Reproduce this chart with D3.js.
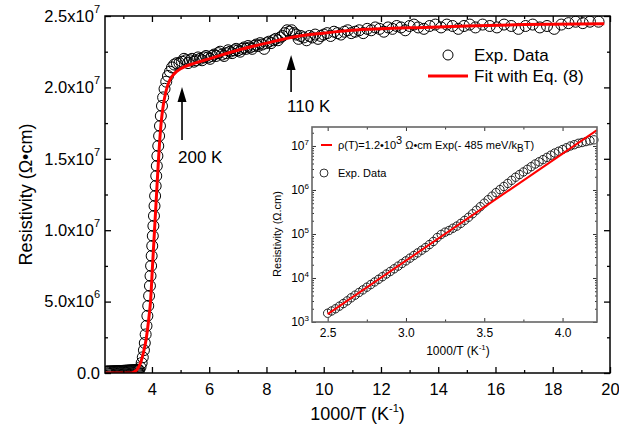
<!DOCTYPE html>
<html>
<head>
<meta charset="utf-8">
<script src="https://cdn.jsdelivr.net/npm/d3@7"></script>
<style>
body { margin: 0; background: #fff; }
svg text { font-family: "Liberation Sans", Arial, sans-serif; fill: #000; }
</style>
</head>
<body>
<div id="chart"></div>
<script>
// main panel: experimental data, 1000/T (K^-1) and resistivity in units of 1e7 Ohm.cm
const expX = [2.40, 2.44, 2.48, 2.52, 2.56, 2.60, 2.64, 2.68, 2.72, 2.76, 2.80, 2.84, 2.88, 2.92, 2.96, 3.00, 3.04, 3.08, 3.12, 3.16, 3.20, 3.24, 3.28, 3.32, 3.36, 3.40, 3.44, 3.48, 3.52,
	3.55, 3.60, 3.64, 3.68, 3.72, 3.75, 3.78, 3.81, 3.84, 3.87, 3.90, 3.93, 3.95, 3.97, 3.99, 4.01, 4.03, 4.05, 4.07, 4.09, 4.11, 4.13, 4.15, 4.17, 4.19, 4.22, 4.25, 4.28, 4.31, 4.35, 4.39, 4.44, 4.50, 4.56, 4.63, 4.70, 4.78, 4.87, 4.96,
	5.05, 5.12, 5.19, 5.26, 5.33, 5.40, 5.47, 5.54, 5.61, 5.68, 5.75, 5.82, 5.89, 5.96, 6.03, 6.10, 6.17, 6.24, 6.31, 6.38, 6.45, 6.52, 6.59, 6.66, 6.73, 6.80, 6.87, 6.94, 7.01, 7.08, 7.15, 7.22, 7.29, 7.36, 7.43, 7.50, 7.57, 7.64, 7.71, 7.78, 7.85, 7.92,
	8.00, 8.08, 8.16, 8.24, 8.32, 8.40, 8.48, 8.56, 8.64, 8.72, 8.80, 8.88, 8.96, 9.04, 9.12, 9.20, 9.30, 9.40, 9.50, 9.60, 9.70, 9.80, 9.90,
	10.00, 10.12, 10.24, 10.36, 10.48, 10.60, 10.72, 10.84, 10.96, 11.10, 11.24, 11.38, 11.52, 11.66, 11.80, 11.95, 12.10, 12.25, 12.40, 12.55, 12.70, 12.85, 13.00, 13.15, 13.30, 13.50, 13.70, 13.90,
	14.10, 14.30, 14.50, 14.70, 14.90, 15.10, 15.30, 15.55, 15.80, 16.05, 16.30, 16.55, 16.80, 17.05, 17.30, 17.55, 17.80, 18.05, 18.30, 18.55, 18.80, 19.05, 19.30, 19.60]
const expRho = [0.010, 0.010, 0.011, 0.011, 0.011, 0.012, 0.012, 0.012, 0.013, 0.013, 0.013, 0.014, 0.014, 0.014, 0.015, 0.015, 0.016, 0.016, 0.017, 0.017, 0.018, 0.018, 0.019, 0.019, 0.020, 0.020, 0.021, 0.021, 0.022,
	0.02, 0.04, 0.07, 0.11, 0.16, 0.21, 0.27, 0.33, 0.40, 0.47, 0.54, 0.61, 0.68, 0.75, 0.82, 0.89, 0.96, 1.03, 1.10, 1.17, 1.24, 1.31, 1.38, 1.45, 1.52, 1.59, 1.66, 1.73, 1.80, 1.87, 1.93, 1.99, 2.04, 2.08, 2.11, 2.14, 2.16, 2.17, 2.17,
	2.18, 2.20, 2.19, 2.17, 2.19, 2.20, 2.18, 2.19, 2.21, 2.20, 2.19, 2.21, 2.22, 2.21, 2.20, 2.22, 2.23, 2.22, 2.24, 2.25, 2.23, 2.22, 2.24, 2.26, 2.25, 2.24, 2.26, 2.27, 2.26, 2.25, 2.27, 2.28, 2.27, 2.29, 2.28, 2.27, 2.29, 2.30, 2.29, 2.31, 2.30, 2.27,
	2.31, 2.32, 2.31, 2.33, 2.34, 2.33, 2.35, 2.36, 2.38, 2.40, 2.39, 2.40, 2.38, 2.37, 2.34, 2.36, 2.35, 2.33, 2.36, 2.35, 2.37, 2.34, 2.36,
	2.37, 2.38, 2.36, 2.39, 2.38, 2.37, 2.39, 2.40, 2.38, 2.39, 2.40, 2.38, 2.41, 2.40, 2.42, 2.41, 2.39, 2.42, 2.41, 2.43, 2.42, 2.40, 2.43, 2.44, 2.42, 2.41, 2.43, 2.44,
	2.42, 2.44, 2.43, 2.41, 2.43, 2.44, 2.42, 2.44, 2.43, 2.42, 2.44, 2.43, 2.41, 2.43, 2.44, 2.42, 2.43, 2.41, 2.44, 2.45, 2.46, 2.45, 2.46, 2.46]

// main panel: fit with Eq. (8)
const fitX = [2.36, 3.30, 3.40, 3.50, 3.60, 3.70, 3.80, 3.90, 3.95, 4.02, 4.09, 4.16, 4.23, 4.32, 4.40, 4.50, 4.62, 4.80, 5.0, 5.5, 6.0, 7.0, 8.0, 9.0, 10.0, 11.0, 12.0, 13.5, 15.0, 17.0, 19.8]
const fitRho = [0.0, 0.0, 0.01, 0.03, 0.07, 0.14, 0.24, 0.40, 0.50, 0.75, 1.0, 1.25, 1.5, 1.75, 1.88, 1.98, 2.05, 2.10, 2.13, 2.17, 2.20, 2.26, 2.31, 2.355, 2.38, 2.40, 2.41, 2.42, 2.43, 2.44, 2.445]

const xTicks = [4, 6, 8, 10, 12, 14, 16, 18, 20]
const xMinorTicks = [3, 5, 7, 9, 11, 13, 15, 17, 19]
const yTicks = [0, 0.5, 1.0, 1.5, 2.0, 2.5]
const yTickMant = ["0.0", "5.0x10", "1.0x10", "1.5x10", "2.0x10", "2.5x10"]
const yTickExp = ["", "6", "7", "7", "7", "7"]
const yMinorTicks = [0.25, 0.75, 1.25, 1.75, 2.25]

const arrowNotes = [{ label: "200 K", x: 5.05 }, { label: "110 K", x: 8.86 }]

// inset: log plot
const insetX = [2.50, 2.525, 2.55, 2.575, 2.60, 2.625, 2.65, 2.675, 2.70, 2.725, 2.75, 2.775, 2.80, 2.825, 2.85, 2.875, 2.90, 2.925, 2.95, 2.975,
	3.00, 3.025, 3.05, 3.075, 3.10, 3.125, 3.15, 3.175, 3.20, 3.225, 3.25, 3.275, 3.30, 3.325, 3.35, 3.375, 3.40, 3.425, 3.45, 3.475,
	3.50, 3.525, 3.55, 3.575, 3.60, 3.625, 3.65, 3.675, 3.70, 3.725, 3.75, 3.775, 3.80, 3.825, 3.85, 3.875, 3.90, 3.925, 3.95, 3.975,
	4.00, 4.025, 4.05, 4.075, 4.10, 4.125, 4.15, 4.175, 4.20]
const insetRho = [1.58e3, 1.78e3, 2.0e3, 2.29e3, 2.63e3, 3.02e3, 3.55e3, 4.07e3, 4.68e3, 5.37e3, 6.17e3, 7.08e3, 8.13e3, 9.33e3, 1.07e4, 1.23e4, 1.41e4, 1.62e4, 1.86e4, 2.14e4,
	2.45e4, 2.82e4, 3.24e4, 3.72e4, 4.27e4, 4.90e4, 5.75e4, 6.76e4, 8.32e4, 9.77e4, 1.10e5, 1.20e5, 1.35e5, 1.51e5, 1.74e5, 2.04e5, 2.40e5, 2.88e5, 3.47e5, 4.17e5,
	5.01e5, 6.03e5, 7.24e5, 8.71e5, 1.02e6, 1.20e6, 1.41e6, 1.66e6, 1.95e6, 2.24e6, 2.57e6, 2.95e6, 3.39e6, 3.89e6, 4.37e6, 4.90e6, 5.50e6, 6.17e6, 6.92e6, 7.59e6,
	8.32e6, 9.12e6, 1.00e7, 1.07e7, 1.15e7, 1.20e7, 1.26e7, 1.32e7, 1.38e7]
const insetFitX = [2.50, 4.22]
const insetFitRho = [1.51e3, 2.29e7]

const insetXTicks = [2.5, 3.0, 3.5, 4.0]
const insetXMinor = [2.75, 3.25, 3.75]
const insetYTicks = [1e3, 1e4, 1e5, 1e6, 1e7]
const insetYExp = ["3", "4", "5", "6", "7"]

drawChart()

function drawChart() {

	var svg = d3.select("#chart")
		.append("svg")
		.attr("width", 619)
		.attr("height", 437)

	const left = 105, top = 16, right = 610, bottom = 373

	const xScale = d3.scaleLinear().domain([2.36, 20]).range([left, right])
	const yScale = d3.scaleLinear().domain([0, 2.5]).range([bottom, top])

	svg.append("clipPath").attr("id", "mainClip")
		.append("rect")
		.attr("x", left).attr("y", top)
		.attr("width", right - left).attr("height", bottom - top)

	// data circles
	var expData = expX.map((d, i) => ({ x: d, y: expRho[i] }))
	svg.append("g")
		.attr("clip-path", "url(#mainClip)")
		.selectAll("circle")
		.data(expData)
		.enter()
		.append("circle")
		.attr("cx", d => xScale(d.x))
		.attr("cy", d => yScale(d.y))
		.attr("r", 5.5)
		.style("fill", "none")
		.style("stroke", "#000")
		.style("stroke-width", 1)

	// fit line
	var fitData = fitX.map((d, i) => ({ x: d, y: fitRho[i] }))
	const line = d3.line()
		.curve(d3.curveMonotoneX)
		.x(d => xScale(d.x))
		.y(d => yScale(d.y))
	svg.append("path")
		.attr("clip-path", "url(#mainClip)")
		.attr("d", line(fitData))
		.attr("fill", "none")
		.attr("stroke", "#ff0000")
		.attr("stroke-width", 3)

	// axes (ticks inward on all four sides)
	var gX = svg.append("g")
		.attr("transform", `translate(0,${bottom})`)
		.call(d3.axisBottom(xScale).tickValues(xTicks).tickSize(-6).tickSizeOuter(0).tickPadding(10).tickFormat(d3.format("d")))
	svg.append("g")
		.attr("transform", `translate(0,${bottom})`)
		.call(d3.axisBottom(xScale).tickValues(xMinorTicks).tickSize(-3).tickSizeOuter(0).tickFormat(""))
	svg.append("g")
		.attr("transform", `translate(0,${top})`)
		.call(d3.axisTop(xScale).tickValues(xTicks).tickSize(-6).tickSizeOuter(0).tickFormat(""))
	svg.append("g")
		.attr("transform", `translate(0,${top})`)
		.call(d3.axisTop(xScale).tickValues(xMinorTicks).tickSize(-3).tickSizeOuter(0).tickFormat(""))

	var gY = svg.append("g")
		.attr("transform", `translate(${left},0)`)
		.call(d3.axisLeft(yScale).tickValues(yTicks).tickSize(-6).tickSizeOuter(0).tickPadding(5).tickFormat(""))
	svg.append("g")
		.attr("transform", `translate(${left},0)`)
		.call(d3.axisLeft(yScale).tickValues(yMinorTicks).tickSize(-3).tickSizeOuter(0).tickFormat(""))
	svg.append("g")
		.attr("transform", `translate(${right},0)`)
		.call(d3.axisRight(yScale).tickValues(yTicks).tickSize(-6).tickSizeOuter(0).tickFormat(""))
	svg.append("g")
		.attr("transform", `translate(${right},0)`)
		.call(d3.axisRight(yScale).tickValues(yMinorTicks).tickSize(-3).tickSizeOuter(0).tickFormat(""))

	svg.selectAll(".domain").remove()
	svg.selectAll(".tick line").style("stroke", "#000").style("stroke-width", 1.3)

	gX.selectAll(".tick text")
		.style("font-size", "16.5px")
		.style("fill", "#000")

	gY.selectAll(".tick text")
		.style("font-size", "16.5px")
		.style("fill", "#000")
		.each(function(d, i) {
			var t = d3.select(this)
			t.text(null)
			t.append("tspan").text(yTickMant[i])
			if (yTickExp[i] != "") {
				t.append("tspan")
					.attr("dy", "-9")
					.style("font-size", "11px")
					.text(yTickExp[i])
			}
		})

	// frame
	svg.append("rect")
		.attr("x", left).attr("y", top)
		.attr("width", right - left).attr("height", bottom - top)
		.style("fill", "none")
		.style("stroke", "#000")
		.style("stroke-width", 1.5)

	// axis names
	svg.append("text")
		.attr("transform", `translate(32,${(top + bottom) / 2}) rotate(-90)`)
		.style("text-anchor", "middle")
		.style("font-size", "18px")
		.text("Resistivity (Ω•cm)")

	var xName = svg.append("text")
		.attr("x", (left + right) / 2)
		.attr("y", 420)
		.style("text-anchor", "middle")
		.style("font-size", "18px")
	xName.append("tspan").text("1000/T (K")
	xName.append("tspan").attr("dy", "-8").style("font-size", "11px").text("-1")
	xName.append("tspan").attr("dy", "8").text(")")

	// arrows with temperatures
	var notes = svg.append("g").attr("class", "notes")
	var tipY = [87, 55], tailY = [140, 92], labY = [163, 112]
	arrowNotes.forEach(function(n, i) {
		var ax = xScale(n.x)
		notes.append("line")
			.attr("x1", ax).attr("x2", ax)
			.attr("y1", tipY[i] + 8).attr("y2", tailY[i])
			.style("stroke", "#000")
			.style("stroke-width", 1.6)
		notes.append("path")
			.attr("d", `M${ax},${tipY[i]} L${ax - 4.5},${tipY[i] + 15} L${ax + 4.5},${tipY[i] + 15} Z`)
			.style("fill", "#000")
		notes.append("text")
			.attr("x", ax - 4)
			.attr("y", labY[i])
			.style("font-size", "17px")
			.text(n.label)
	})

	// legend
	var legend = svg.append("g").attr("class", "legend")
	legend.append("circle")
		.attr("cx", 448).attr("cy", 55).attr("r", 5)
		.style("fill", "none").style("stroke", "#000").style("stroke-width", 1)
	legend.append("text")
		.attr("x", 474).attr("y", 61)
		.style("font-size", "17px")
		.text("Exp. Data")
	legend.append("line")
		.attr("x1", 428).attr("x2", 468)
		.attr("y1", 76).attr("y2", 76)
		.style("stroke", "#ff0000").style("stroke-width", 3)
	legend.append("text")
		.attr("x", 474).attr("y", 82)
		.style("font-size", "17px")
		.text("Fit with Eq. (8)")

	drawInset(svg)
}

function drawInset(svg) {

	const ix = 312, iy = 127, iw = 285, ih = 195

	var g = svg.append("g")
		.attr("class", "Inset")
		.attr("transform", `translate(${ix},${iy})`)

	g.append("rect")
		.attr("width", iw).attr("height", ih)
		.style("fill", "#fff")

	const xScale = d3.scaleLinear().domain([2.4, 4.22]).range([0, iw])
	const yScale = d3.scaleLog().domain([1e3, 2.7e7]).range([ih, 0])

	var pts = insetX.map((d, i) => ({ x: d, y: insetRho[i] }))
	g.append("g")
		.selectAll("circle")
		.data(pts)
		.enter()
		.append("circle")
		.attr("cx", d => xScale(d.x))
		.attr("cy", d => yScale(d.y))
		.attr("r", 4.2)
		.style("fill", "none")
		.style("stroke", "#222")
		.style("stroke-width", 1)

	var fit = insetFitX.map((d, i) => ({ x: d, y: insetFitRho[i] }))
	g.append("path")
		.attr("d", d3.line().x(d => xScale(d.x)).y(d => yScale(d.y))(fit))
		.attr("fill", "none")
		.attr("stroke", "#ff0000")
		.attr("stroke-width", 2)

	// minor log ticks
	var yMinor = []
	for (var e = 3; e <= 7; e++) {
		for (var k = 2; k <= 9; k++) {
			var v = k * Math.pow(10, e)
			if (v < 2.7e7) yMinor.push(v)
		}
	}

	var gx = g.append("g")
		.attr("transform", `translate(0,${ih})`)
		.call(d3.axisBottom(xScale).tickValues(insetXTicks).tickSize(-4).tickSizeOuter(0).tickPadding(6).tickFormat(d3.format(".1f")))
	g.append("g")
		.attr("transform", `translate(0,${ih})`)
		.call(d3.axisBottom(xScale).tickValues(insetXMinor).tickSize(-2.5).tickSizeOuter(0).tickFormat(""))
	g.append("g")
		.call(d3.axisTop(xScale).tickValues(insetXTicks).tickSize(-4).tickSizeOuter(0).tickFormat(""))
	g.append("g")
		.call(d3.axisTop(xScale).tickValues(insetXMinor).tickSize(-2.5).tickSizeOuter(0).tickFormat(""))

	var gy = g.append("g")
		.call(d3.axisLeft(yScale).tickValues(insetYTicks).tickSize(-4).tickSizeOuter(0).tickPadding(3).tickFormat(""))
	g.append("g")
		.call(d3.axisLeft(yScale).tickValues(yMinor).tickSize(-2).tickSizeOuter(0).tickFormat(""))
	g.append("g")
		.attr("transform", `translate(${iw},0)`)
		.call(d3.axisRight(yScale).tickValues(insetYTicks).tickSize(-4).tickSizeOuter(0).tickFormat(""))
	g.append("g")
		.attr("transform", `translate(${iw},0)`)
		.call(d3.axisRight(yScale).tickValues(yMinor).tickSize(-2).tickSizeOuter(0).tickFormat(""))

	g.selectAll(".domain").remove()
	g.selectAll(".tick line").style("stroke", "#333").style("stroke-width", 1)

	gx.selectAll(".tick text")
		.style("font-size", "12px")
		.style("fill", "#000")

	gy.selectAll(".tick text")
		.style("font-size", "12px")
		.style("fill", "#000")
		.each(function(d, i) {
			var t = d3.select(this)
			t.text(null)
			t.append("tspan").text("10")
			t.append("tspan").attr("dy", "-5").style("font-size", "8px").text(insetYExp[i])
		})

	g.append("rect")
		.attr("width", iw).attr("height", ih)
		.style("fill", "none")
		.style("stroke", "#666")
		.style("stroke-width", 1.6)

	// inset axis names
	g.append("text")
		.attr("transform", `translate(-31,107) rotate(-90)`)
		.style("text-anchor", "middle")
		.style("font-size", "11px")
		.text("Resistivity (Ω.cm)")

	var xn = g.append("text")
		.attr("x", 146)
		.attr("y", 228)
		.style("text-anchor", "middle")
		.style("font-size", "12px")
	xn.append("tspan").text("1000/T (K")
	xn.append("tspan").attr("dy", "-5").style("font-size", "8px").text("-1")
	xn.append("tspan").attr("dy", "5").text(")")

	// inset legend
	g.append("line")
		.attr("x1", 9).attr("x2", 20)
		.attr("y1", 18).attr("y2", 18)
		.style("stroke", "#ff0000").style("stroke-width", 2)
	var lt = g.append("text")
		.attr("x", 26).attr("y", 22)
		.style("font-size", "11px")
	lt.append("tspan").text("ρ(T)=1.2•10")
	lt.append("tspan").attr("dy", "-5").style("font-size", "11px").text("3")
	lt.append("tspan").attr("dy", "5").text(" Ω•cm Exp(- 485 meV/k")
	lt.append("tspan").attr("dy", "3").style("font-size", "10px").text("B")
	lt.append("tspan").attr("dy", "-3").text("T)")

	g.append("circle")
		.attr("cx", 12).attr("cy", 46).attr("r", 4)
		.style("fill", "none").style("stroke", "#333").style("stroke-width", 1)
	g.append("text")
		.attr("x", 26).attr("y", 50)
		.style("font-size", "11px")
		.text("Exp. Data")
}
</script>
</body>
</html>
